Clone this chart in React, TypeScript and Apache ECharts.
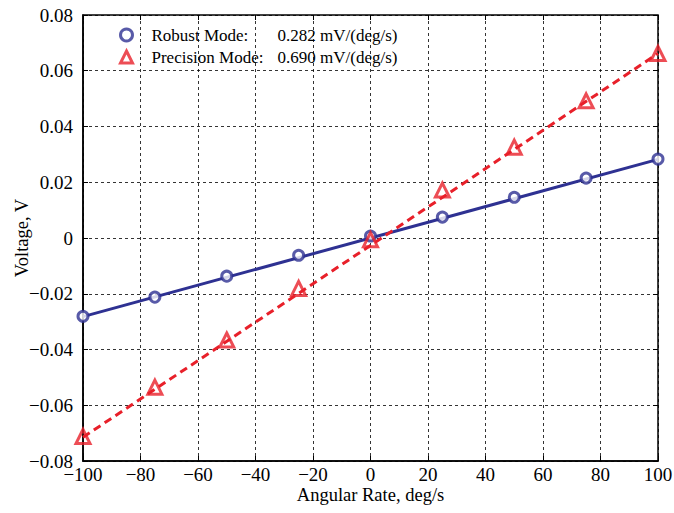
import React, { useEffect, useRef } from "react";
import * as echarts from "echarts";

const angularRates = [-100, -75, -50, -25, 0, 25, 50, 75, 100];
const robustValues = [-0.0281, -0.0212, -0.0137, -0.0062, 0.0007, 0.0075, 0.0146, 0.0215, 0.0283];
const precisionValues = [-0.0712, -0.0535, -0.0366, -0.0181, -0.0006, 0.0172, 0.0326, 0.0492, 0.0662];
const robustFit = [[-100, -0.0282], [100, 0.0282]];
const precisionFit = [[-100, -0.0715], [100, 0.0662]];
const seriesNames = ["Robust Mode", "Precision Mode"];
const sensitivities = ["0.282 mV/(deg/s)", "0.690 mV/(deg/s)"];

const BLUE = "#2E3192";
const RED = "#E8202A";
const FONT = "Liberation Serif";

const minus = (s: string) => s.replace(/-/g, "\u2212");

export default function App() {
  const ref = useRef<HTMLDivElement>(null);
  useEffect(() => {
    if (!ref.current) return;
    const chart = echarts.init(ref.current, undefined, { renderer: "svg" });
    const gridLine = { show: true, lineStyle: { color: "#000", type: [3, 3] as any, width: 0.8 } };
    const tick = { show: true, inside: true, length: 5, lineStyle: { color: "#000", width: 1 } };
    chart.setOption({
      animation: false,
      backgroundColor: "#fff",
      textStyle: { fontFamily: FONT },
      grid: {
        left: 83,
        right: 16,
        top: 15,
        bottom: 52,
        outerBoundsMode: "none",
        containLabel: false,
        show: true,
        borderColor: "#000",
        borderWidth: 1.5,
        backgroundColor: "transparent",
      },
      legend: {
        left: 114,
        top: 20,
        orient: "vertical",
        itemGap: 2,
        itemWidth: 12,
        itemHeight: 12,
        data: [
          { name: seriesNames[0], icon: "circle", itemStyle: { color: "#fff", borderColor: BLUE, borderWidth: 3 } },
          { name: seriesNames[1], icon: "triangle", itemStyle: { color: "#fff", borderColor: RED, borderWidth: 3 } },
        ],
        formatter: (name: string) => {
          const i = seriesNames.indexOf(name);
          return `{a|${name}:}{b|${sensitivities[i]}}`;
        },
        textStyle: {
          fontFamily: FONT,
          fontSize: 17,
          color: "#000",
          lineHeight: 20,
          padding: [0, 0, 0, 14],
          rich: {
            a: { fontFamily: FONT, fontSize: 17, color: "#000", width: 126, lineHeight: 20 },
            b: { fontFamily: FONT, fontSize: 17, color: "#000", lineHeight: 20 },
          },
        },
      },
      xAxis: [
        {
          type: "value",
          min: -100,
          max: 100,
          interval: 20,
          name: "Angular Rate, deg/s",
          nameLocation: "middle",
          nameGap: 24,
          nameMoveOverlap: false,
          nameTextStyle: { fontFamily: FONT, fontSize: 18.5, color: "#000" },
          axisLine: { show: true, onZero: false, lineStyle: { color: "#000", width: 1.5 } },
          axisTick: tick,
          splitLine: gridLine,
          axisLabel: { fontFamily: FONT, fontSize: 19, color: "#000", margin: 4, formatter: (v: number) => minus(String(v)) },
        },
        {
          type: "value",
          position: "top",
          min: -100,
          max: 100,
          interval: 20,
          axisLine: { show: false, onZero: false },
          axisTick: tick,
          splitLine: { show: false },
          axisLabel: { show: false },
        },
      ],
      yAxis: [
        {
          type: "value",
          min: -0.08,
          max: 0.08,
          interval: 0.02,
          name: "Voltage, V",
          nameLocation: "middle",
          nameGap: 52,
          nameMoveOverlap: false,
          nameTextStyle: { fontFamily: FONT, fontSize: 18.5, color: "#000" },
          axisLine: { show: true, onZero: false, lineStyle: { color: "#000", width: 1.5 } },
          axisTick: tick,
          splitLine: gridLine,
          axisLabel: {
            fontFamily: FONT,
            fontSize: 19,
            color: "#000",
            margin: 10,
            formatter: (v: number) => (Math.abs(v) < 1e-9 ? "0" : minus(v.toFixed(2))),
          },
        },
        {
          type: "value",
          position: "right",
          min: -0.08,
          max: 0.08,
          interval: 0.02,
          axisLine: { show: false, onZero: false },
          axisTick: tick,
          splitLine: { show: false },
          axisLabel: { show: false },
        },
      ],
      series: [
        {
          name: "Robust fit",
          type: "line",
          data: robustFit,
          symbol: "none",
          lineStyle: { color: BLUE, width: 3 },
          silent: true,
          z: 2,
        },
        {
          name: "Precision fit",
          type: "line",
          data: precisionFit,
          symbol: "none",
          lineStyle: { color: RED, width: 3, type: [8, 5] as any },
          silent: true,
          z: 3,
        },
        {
          name: seriesNames[0],
          type: "scatter",
          data: angularRates.map((x, i) => [x, robustValues[i]]),
          symbol: "circle",
          symbolSize: 10,
          itemStyle: { color: "#fff", borderColor: BLUE, borderWidth: 3 },
          z: 4,
        },
        {
          name: seriesNames[1],
          type: "scatter",
          data: angularRates.map((x, i) => [x, precisionValues[i]]),
          symbol: "triangle",
          symbolSize: 14,
          itemStyle: { color: "transparent", borderColor: RED, borderWidth: 3 },
          z: 5,
        },
      ],
    });
    return () => chart.dispose();
  }, []);
  return <div ref={ref} style={{ width: 674, height: 513, position: "fixed", left: 0, top: 0 }} />;
}
